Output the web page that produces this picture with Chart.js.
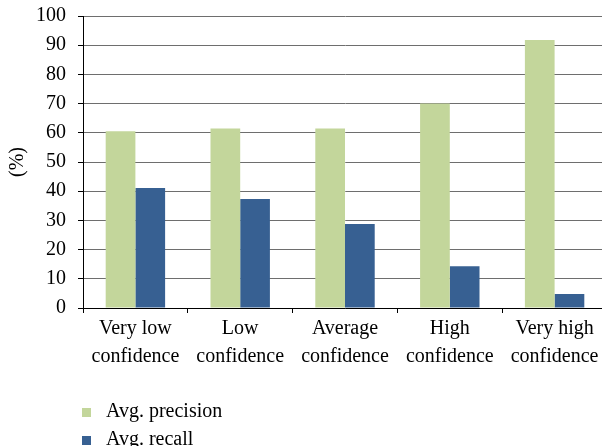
<!DOCTYPE html>
<html>
<head>
<meta charset="utf-8">
<script src="https://cdn.jsdelivr.net/npm/chart.js@4"></script>
<style>
  html, body { margin: 0; padding: 0; background: #fff; overflow: hidden; }
  #wrap { width: 612px; height: 446px; }
</style>
</head>
<body>
<div id="wrap"><canvas id="myChart" width="612" height="446"></canvas></div>
<script>
// Data
const categories = [
  ["Very low", "confidence"],
  ["Low", "confidence"],
  ["Average", "confidence"],
  ["High", "confidence"],
  ["Very high", "confidence"]
];
const seriesNames = ["Avg. precision", "Avg. recall"];
const precision = [60.5, 61.5, 61.5, 70, 91.8];
const recall = [41.1, 37.3, 28.8, 14.3, 4.8];
const yMin = 0, yMax = 100, yStep = 10;

const FONT = '"Liberation Serif", "Times New Roman", serif';

// Legend as a vertical list under the axis
const listLegend = {
  id: "listLegend",
  afterDraw(chart) {
    const ctx = chart.ctx;
    const area = chart.chartArea;
    ctx.save();
    ctx.font = "20px " + FONT;
    ctx.textBaseline = "middle";
    chart.data.datasets.forEach((ds, i) => {
      const y = area.bottom + 104 + i * 28;
      ctx.fillStyle = ds.backgroundColor;
      ctx.fillRect(82, y - 4, 9, 9);
      ctx.fillStyle = "#000";
      ctx.fillText(ds.label, 106, y);
    });
    ctx.restore();
  }
};

document.addEventListener("DOMContentLoaded", () => {
  const ctx = document.getElementById("myChart").getContext("2d");
  new Chart(ctx, {
    type: "bar",
    data: {
      labels: categories,
      datasets: [
        { label: seriesNames[0], data: precision, backgroundColor: "#C3D69B" },
        { label: seriesNames[1], data: recall, backgroundColor: "#376092" }
      ]
    },
    options: {
      responsive: false,
      animation: false,
      categoryPercentage: 0.567,
      barPercentage: 1,
      layout: { padding: { left: 0, right: 5, top: 16, bottom: 78 } },
      plugins: {
        legend: { display: false },
        tooltip: { enabled: false }
      },
      scales: {
        x: {
          grid: { drawOnChartArea: false, tickLength: 5, color: "#000", offset: true },
          border: { color: "#000" },
          ticks: { color: "#000", padding: 2, maxRotation: 0, font: { family: FONT, size: 20, lineHeight: 1.4 } },
          afterFit: s => { s.height = 60; }
        },
        y: {
          min: yMin,
          max: yMax,
          ticks: { stepSize: yStep, color: "#000", padding: 12, font: { family: FONT, size: 20, lineHeight: 1 } },
          grid: { color: "#6e6e6e", tickColor: "#000", tickLength: 5 },
          border: { color: "#000" },
          title: { display: true, text: "(%)", color: "#000", padding: { top: 6, bottom: 0 }, font: { family: FONT, size: 20 } },
          afterFit: s => { s.width = 83; s.paddingTop = 0; s.paddingBottom = 0; }
        }
      }
    },
    plugins: [listLegend]
  });
});
</script>
</body>
</html>
